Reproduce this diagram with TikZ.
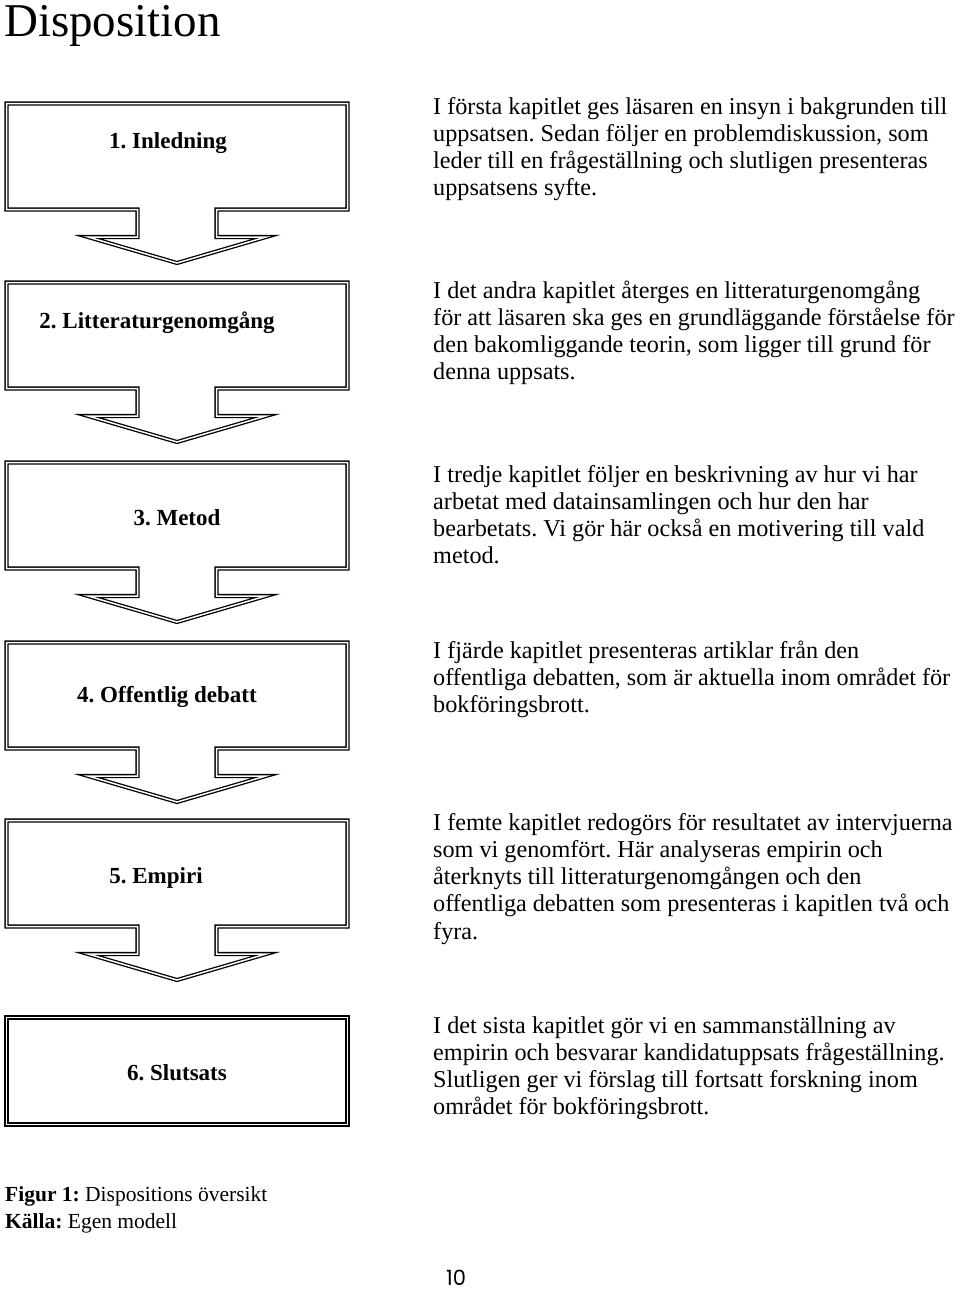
\documentclass[tikz,border=0pt]{standalone}
\usepackage{fontspec}
\setmainfont{Liberation Serif}
\newfontfamily\advfont{Poppins}
\frenchspacing
\tikzset{
  arrowbox/.style={draw=black, line width=1.3pt, double=white, double distance=1.5pt, line join=miter},
  lbl/.style={inner sep=0, font=\fontsize{23}{26}\selectfont\bfseries},
  body/.style={anchor=base west, inner sep=0},
  captxt/.style={anchor=base west, inner sep=0, font=\fontsize{21.5}{24}\selectfont},
}
\newcommand{\para}[1]{\parbox[t]{600pt}{\raggedright\frenchspacing\fontsize{24.2}{27.3}\selectfont #1}}
\begin{document}
\begin{tikzpicture}[x=1pt,y=-1pt]
\useasboundingbox (0,0) rectangle (960,1294);
% title
\node[anchor=base west, inner sep=0, font=\fontsize{47}{52}\selectfont] (title) at (4,36) {Disposition};
% arrow boxes
\foreach \T in {101,280,460,640,818}{
  \draw[arrowbox] (6.5,{\T+2.5}) -- (347.5,{\T+2.5}) -- (347.5,{\T+108.5}) -- (216.5,{\T+108.5})
    -- (216.5,{\T+136}) -- (266,{\T+136}) -- (177,{\T+162}) -- (88,{\T+136})
    -- (137.5,{\T+136}) -- (137.5,{\T+108.5}) -- (6.5,{\T+108.5}) -- cycle;
}
\draw[arrowbox] (6.5,1017.5) rectangle (347.5,1124.5);
% labels
\node[lbl] (l1) at (168,143) {1. Inledning};
\node[lbl] (l2) at (157,323) {2. Litteraturgenomgång};
\node[lbl] (l3) at (177,518) {3. Metod};
\node[lbl] (l4) at (167,697) {4. Offentlig debatt};
\node[lbl] (l5) at (156,878) {5. Empiri};
\node[lbl] (l6) at (177,1073) {6. Slutsats};
% descriptions
\node[body] (t1) at (433,114) {\para{I första kapitlet ges läsaren en insyn i bakgrunden till\\
uppsatsen. Sedan följer en problemdiskussion, som\\
leder till en frågeställning och slutligen presenteras\\
uppsatsens syfte.}};
\node[body] (t2) at (433,298) {\para{I det andra kapitlet återges en litteraturgenomgång\\
för att läsaren ska ges en grundläggande förståelse för\\
den bakomliggande teorin, som ligger till grund för\\
denna uppsats.}};
\node[body] (t3) at (433,482) {\para{I tredje kapitlet följer en beskrivning av hur vi har\\
arbetat med datainsamlingen och hur den har\\
bearbetats. Vi gör här också en motivering till vald\\
metod.}};
\node[body] (t4) at (433,658) {\para{I fjärde kapitlet presenteras artiklar från den\\
offentliga debatten, som är aktuella inom området för\\
bokföringsbrott.}};
\node[body] (t5) at (433,830) {\para{I femte kapitlet redogörs för resultatet av intervjuerna\\
som vi genomfört. Här analyseras empirin och\\
återknyts till litteraturgenomgången och den\\
offentliga debatten som presenteras i kapitlen två och\\
fyra.}};
\node[body] (t6) at (433,1033) {\para{I det sista kapitlet gör vi en sammanställning av\\
empirin och besvarar kandidatuppsats frågeställning.\\
Slutligen ger vi förslag till fortsatt forskning inom\\
området för bokföringsbrott.}};
% caption
\node[captxt] (cap1) at (5,1201) {\textbf{Figur 1:} Dispositions översikt};
\node[captxt] (cap2) at (5,1228) {\textbf{Källa:} Egen modell};
\node[anchor=base, inner sep=0, text height=15pt, text depth=0pt, font=\advfont\fontsize{21}{23}\selectfont] (page) at (456,1285) {10};
\end{tikzpicture}
\end{document}
